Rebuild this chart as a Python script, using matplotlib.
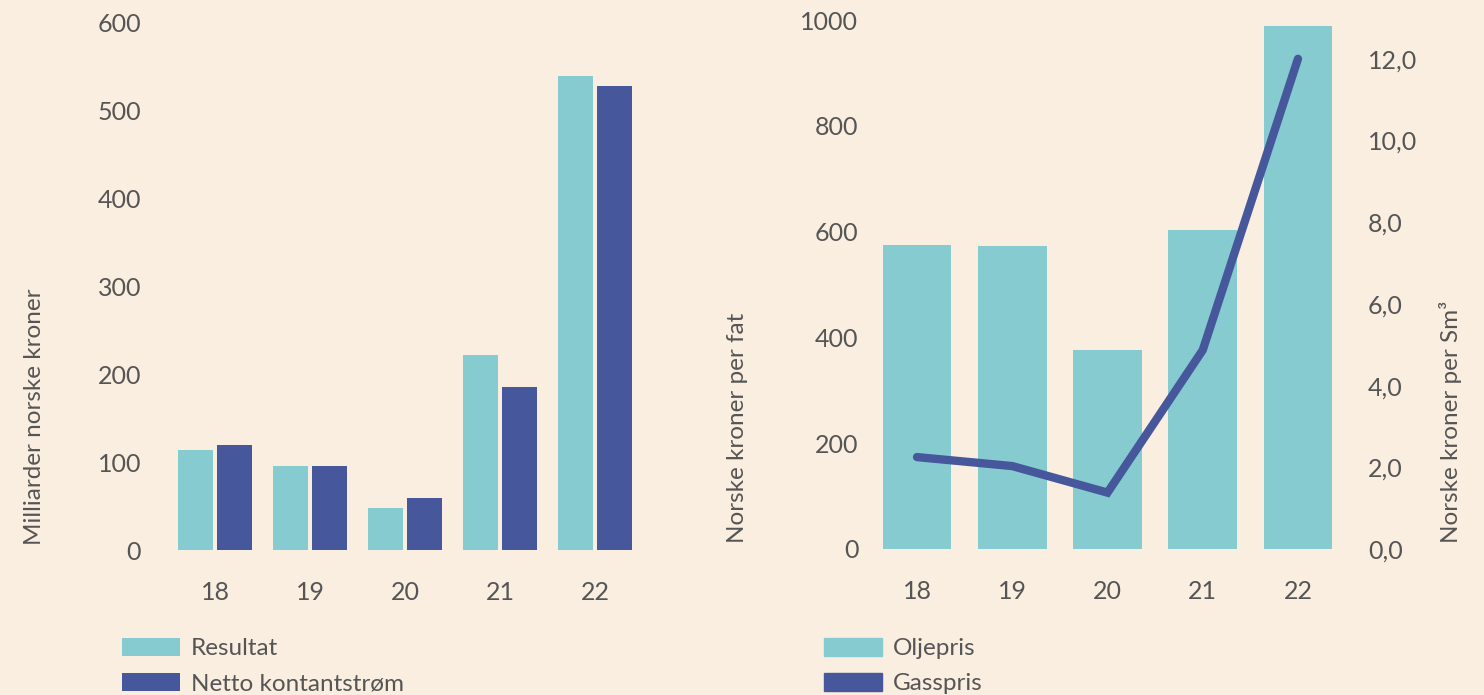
import matplotlib
matplotlib.use('Agg')
import matplotlib.pyplot as plt
from matplotlib.patches import Patch
import numpy as np

# data ------------------------------------------------------------------------
years = ['18', '19', '20', '21', '22']
resultat = [114, 95, 48, 222, 539]
netto = [119, 95, 59, 185, 527]
oljepris = [575, 573, 376, 603, 989]
gasspris = [2.25, 2.03, 1.38, 4.87, 12.0]

left_ticks = [0, 100, 200, 300, 400, 500, 600]
olje_ticks = [0, 200, 400, 600, 800, 1000]
gass_ticks = [0, 2, 4, 6, 8, 10, 12]

# style -----------------------------------------------------------------------
bg = '#faeee0'
teal = '#86cbd0'
navy = '#46579b'
txt = '#555555'

plt.rcParams['font.family'] = ['Lato', 'DejaVu Sans']
W, H = 1484, 695
lab_fs = 17.5

fig = plt.figure(figsize=(W / 100, H / 100), dpi=100, facecolor=bg)


def px_axes(x0, x1, y_bottom, y_top):
    return fig.add_axes([x0 / W, 1 - y_bottom / H, (x1 - x0) / W, (y_bottom - y_top) / H])


def clean(ax):
    ax.set_facecolor(bg)
    for s in ax.spines.values():
        s.set_visible(False)
    ax.tick_params(length=0, labelsize=18, labelcolor=txt)


def legend_at(ax, x_px, y_px, **kw):
    return ax.legend(loc='upper left', bbox_to_anchor=(x_px / W, 1 - y_px / H),
                     bbox_transform=fig.transFigure, frameon=False, fontsize=lab_fs,
                     labelcolor=txt, handlelength=2.39, handleheight=0.74,
                     handletextpad=0.45, labelspacing=0.57, borderpad=0,
                     borderaxespad=0, **kw)


x = np.arange(len(years))

# left chart ------------------------------------------------------------------
ax1 = px_axes(167.5, 642.5, 550, 22)
clean(ax1)
w = 0.37
ax1.bar(x - 0.205, resultat, w, color=teal, label='Resultat')
ax1.bar(x + 0.205, netto, w, color=navy, label='Netto kontantstrøm')
ax1.set_xlim(-0.5, 4.5)
ax1.set_ylim(0, 600)
ax1.set_yticks(left_ticks)
ax1.set_xticks(x, years)
ax1.tick_params(axis='y', pad=19)
ax1.tick_params(axis='x', pad=22)
fig.text(35 / W, 1 - 545 / H, 'Milliarder norske kroner', rotation=90,
         ha='center', va='bottom', fontsize=lab_fs, color=txt)
legend_at(ax1, 122, 638)

# right chart -----------------------------------------------------------------
ax2 = px_axes(869.4, 1345.6, 549, 20)
clean(ax2)
ax2.bar(x, oljepris, 0.72, color=teal)
ax2.set_xlim(-0.5, 4.5)
ax2.set_ylim(0, 1000)
ax2.set_yticks(olje_ticks)
ax2.set_xticks(x, years)
ax2.tick_params(axis='y', pad=8)
ax2.tick_params(axis='x', pad=22)

ax3 = ax2.twinx()
for s in ax3.spines.values():
    s.set_visible(False)
ax3.plot(x, gasspris, color=navy, lw=6, solid_capstyle='round', solid_joinstyle='miter')
ax3.set_ylim(0, 12.95)
ax3.set_yticks(gass_ticks, [f'{v:.1f}'.replace('.', ',') for v in gass_ticks])
ax3.tick_params(length=0, labelsize=18, labelcolor=txt, pad=16)

fig.text(738 / W, 1 - 543 / H, 'Norske kroner per fat', rotation=90,
         ha='center', va='bottom', fontsize=lab_fs, color=txt)
fig.text(1450 / W, 1 - 543 / H, 'Norske kroner per Sm³', rotation=90,
         ha='center', va='bottom', fontsize=lab_fs, color=txt)

handles = [Patch(color=teal, label='Oljepris'), Patch(color=navy, label='Gasspris')]
legend_at(ax2, 824, 638, handles=handles)

fig.savefig('out.png', dpi=100, facecolor=bg)
